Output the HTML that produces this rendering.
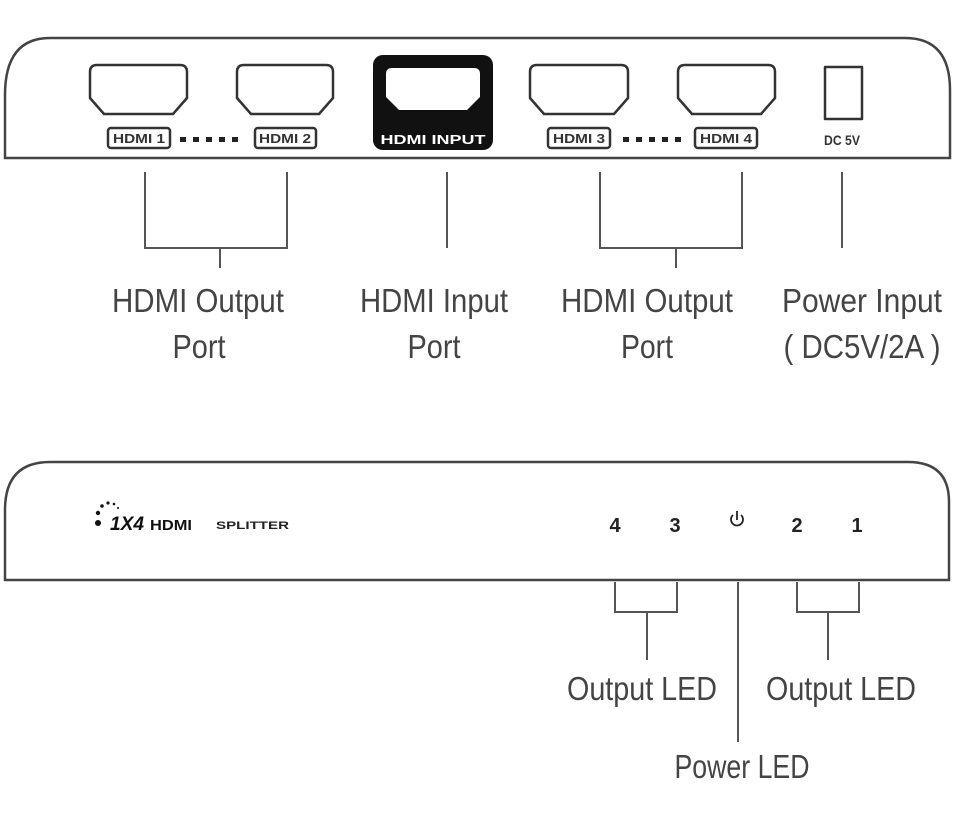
<!DOCTYPE html>
<html><head><meta charset="utf-8"><style>
html,body{margin:0;padding:0;background:#fff;}
svg{display:block;}
text{font-family:"Liberation Sans",sans-serif;}
</style></head><body>
<svg width="960" height="820" viewBox="0 0 960 820" xmlns="http://www.w3.org/2000/svg">
<g fill="none" stroke="#444" stroke-width="2.5">
<path d="M5,158 L5,95 Q5,38 50,38 L905,38 Q950,38 950,90 L950,158 Z"/>
<path d="M5,580 L5,510 Q5,462 50,462 L908,462 Q949,462 949,502 L949,580 Z"/>
</g>
<g fill="none" stroke="#333" stroke-width="2.5" stroke-linejoin="round">
<path d="M90,72 Q90,65 97,65 L180,65 Q187,65 187,72 L187,98 L173,114 L104,114 L90,98 Z"/>
<path d="M237,72 Q237,65 244,65 L326,65 Q333,65 333,72 L333,98 L319,114 L251,114 L237,98 Z"/>
<path d="M530,72 Q530,65 537,65 L621,65 Q628,65 628,72 L628,98 L614,114 L544,114 L530,98 Z"/>
<path d="M678,72 Q678,65 685,65 L768,65 Q775,65 775,72 L775,98 L761,114 L692,114 L678,98 Z"/>
<rect x="825" y="67" width="37" height="52"/>
<rect x="108" y="128" width="62" height="20" rx="3"/>
<rect x="255" y="128" width="61" height="20" rx="3"/>
<rect x="548" y="128" width="62" height="20" rx="3"/>
<rect x="695" y="128" width="62" height="20" rx="3"/>
</g>
<rect x="373" y="55" width="120" height="95" rx="10" fill="#111"/>
<path d="M386,74 Q386,68 392,68 L474,68 Q480,68 480,74 L480,97 L467,110 L399,110 L386,97 Z" fill="#fff"/>
<text x="433" y="144" font-size="13" font-weight="bold" fill="#fff" text-anchor="middle" textLength="105" lengthAdjust="spacingAndGlyphs">HDMI INPUT</text>
<g font-size="13" font-weight="bold" fill="#333" text-anchor="middle">
<text x="139" y="143" textLength="52" lengthAdjust="spacingAndGlyphs">HDMI 1</text>
<text x="285" y="143" textLength="52" lengthAdjust="spacingAndGlyphs">HDMI 2</text>
<text x="579" y="143" textLength="52" lengthAdjust="spacingAndGlyphs">HDMI 3</text>
<text x="726" y="143" textLength="52" lengthAdjust="spacingAndGlyphs">HDMI 4</text>
<text x="842" y="145" font-size="14" textLength="36" lengthAdjust="spacingAndGlyphs">DC 5V</text>
</g>
<g fill="#222">
<rect x="180" y="137" width="6" height="5"/><rect x="193" y="137" width="6" height="5"/><rect x="206" y="137" width="6" height="5"/><rect x="219" y="137" width="6" height="5"/><rect x="232" y="137" width="6" height="5"/>
<rect x="623" y="137" width="6" height="5"/><rect x="636" y="137" width="6" height="5"/><rect x="649" y="137" width="6" height="5"/><rect x="662" y="137" width="6" height="5"/><rect x="675" y="137" width="6" height="5"/>
</g>
<g fill="none" stroke="#555" stroke-width="2">
<path d="M145,172 L145,248 L287,248 L287,172 M220,248 L220,268"/>
<path d="M447,172 L447,248"/>
<path d="M600,172 L600,248 L742,248 L742,172 M676,248 L676,268"/>
<path d="M842,172 L842,248"/>
<path d="M615,582 L615,612 L677,612 L677,582 M647,612 L647,660"/>
<path d="M738,582 L738,742"/>
<path d="M797,582 L797,612 L859,612 L859,582 M828,612 L828,660"/>
</g>
<g font-size="33" fill="#444" text-anchor="middle">
<text x="198" y="312" textLength="172" lengthAdjust="spacingAndGlyphs">HDMI Output</text>
<text x="199" y="358" textLength="53" lengthAdjust="spacingAndGlyphs">Port</text>
<text x="434" y="312" textLength="148" lengthAdjust="spacingAndGlyphs">HDMI Input</text>
<text x="434" y="358" textLength="53" lengthAdjust="spacingAndGlyphs">Port</text>
<text x="647" y="312" textLength="172" lengthAdjust="spacingAndGlyphs">HDMI Output</text>
<text x="647" y="358" textLength="52" lengthAdjust="spacingAndGlyphs">Port</text>
<text x="862" y="312" textLength="160" lengthAdjust="spacingAndGlyphs">Power Input</text>
<text x="862" y="358" textLength="157" lengthAdjust="spacingAndGlyphs">( DC5V/2A )</text>
<text x="642" y="700" textLength="150" lengthAdjust="spacingAndGlyphs">Output LED</text>
<text x="841" y="700" textLength="150" lengthAdjust="spacingAndGlyphs">Output LED</text>
<text x="742" y="778" textLength="135" lengthAdjust="spacingAndGlyphs">Power LED</text>
</g>
<g font-size="20" font-weight="bold" fill="#222" text-anchor="middle">
<text x="615" y="532">4</text><text x="675" y="532">3</text><text x="797" y="532">2</text><text x="857" y="532">1</text>
</g>
<path d="M733,515 A6,6 0 1 0 741,515" fill="none" stroke="#222" stroke-width="1.8"/>
<line x1="737" y1="511" x2="737" y2="520" stroke="#222" stroke-width="1.8"/>
<g fill="#111">
<circle cx="98" cy="523" r="3"/><circle cx="98" cy="513" r="2.2"/><circle cx="102" cy="506" r="1.8"/><circle cx="108" cy="503" r="1.6"/><circle cx="114" cy="504" r="1.3"/><circle cx="118" cy="508" r="1"/>
</g>
<text x="110" y="530" font-size="19" font-weight="bold" font-style="italic" fill="#111" textLength="34" lengthAdjust="spacingAndGlyphs">1X4</text>
<text x="150" y="530" font-size="15" font-weight="bold" fill="#111" textLength="42" lengthAdjust="spacingAndGlyphs">HDMI</text>
<text x="216" y="529" font-size="11" font-weight="bold" fill="#222" textLength="73" lengthAdjust="spacingAndGlyphs">SPLITTER</text>
</svg>
</body></html>
